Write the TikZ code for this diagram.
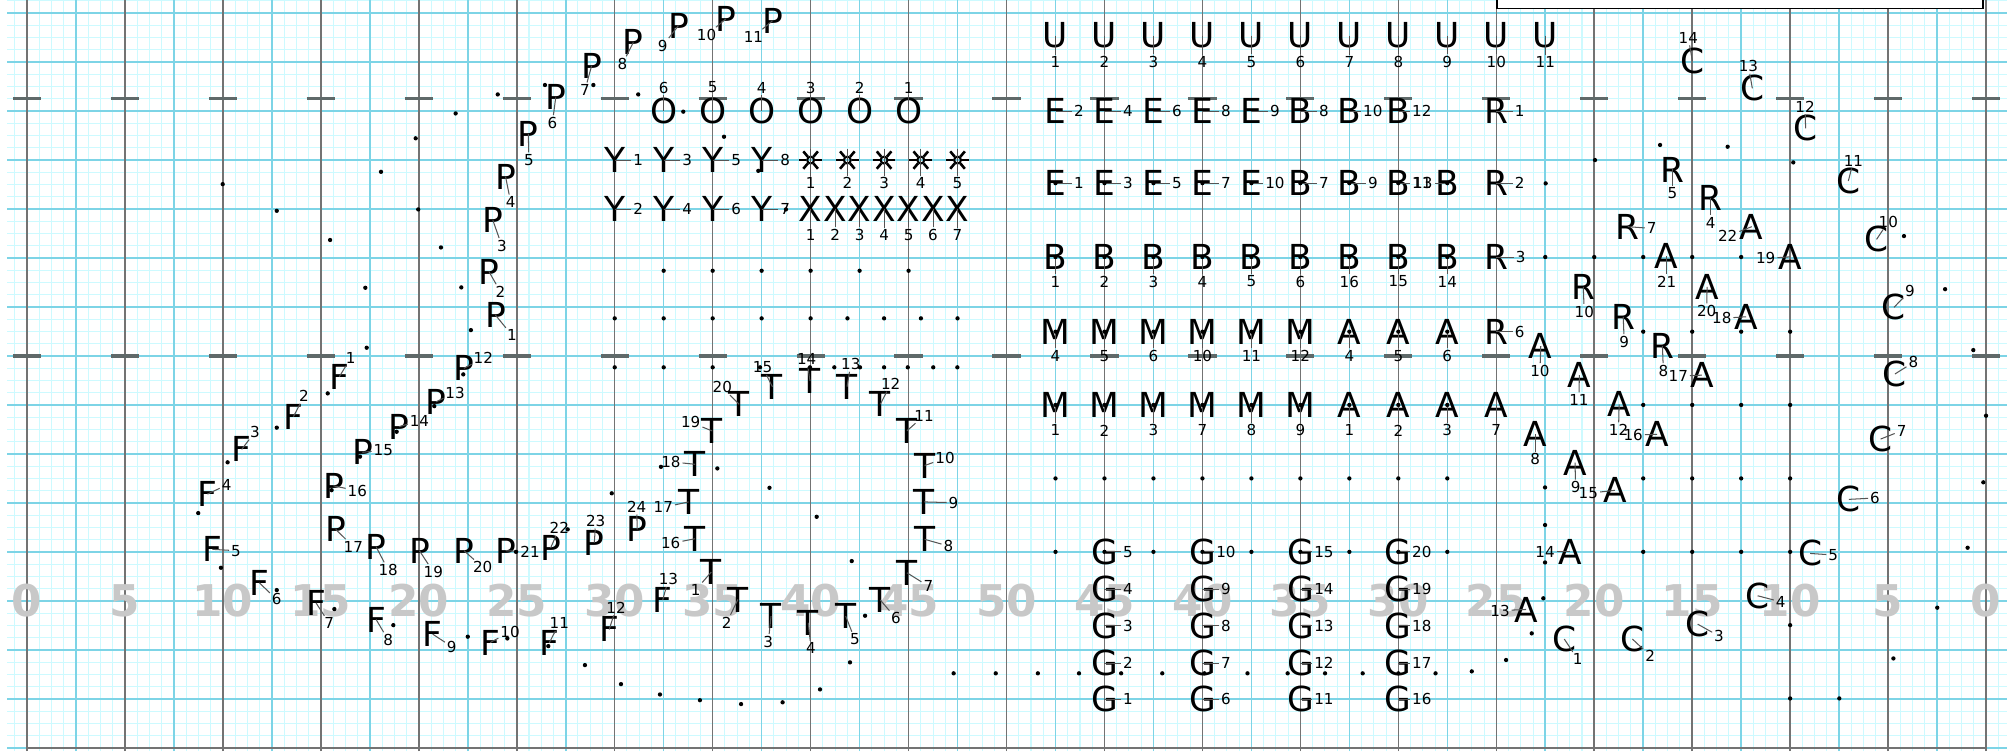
\documentclass[tikz,border=0pt]{standalone}
\usepackage{fontspec}
\setmainfont{DejaVu Sans}
\usetikzlibrary{positioning}
\definecolor{finegrid}{RGB}{205,250,255}
\definecolor{majorgrid}{RGB}{125,212,230}
\definecolor{yardline}{RGB}{115,115,115}
\definecolor{hashgray}{RGB}{95,105,105}
\definecolor{yardnum}{RGB}{200,200,200}
\definecolor{tethergray}{RGB}{85,85,85}

% one marcher: letter, its number and the tether between them
\newcommand{\mrch}[5]{%
  \node[marcher] (#1) at (#2) {#3};
  \node[numlbl] (#1n) at (#4) {#5};
  \draw[tether] (#1.center) -- (#1n);}

\begin{document}
\begin{tikzpicture}[
    x=0.2cm, y=0.2cm,
    marcher/.style={font=\fontsize{10}{10}\selectfont, inner sep=0pt},
    numlbl/.style={font=\fontsize{4.4}{4.4}\selectfont, inner sep=0.4pt},
    tether/.style={draw=tethergray, line width=0.3pt},
    sunmark/.style={circle, draw, line width=0.6pt, minimum size=0.7mm, inner sep=0pt},
    sunray/.style={line width=0.75pt},
    yardlbl/.style={font=\fontsize{12.7}{12.7}\selectfont\bfseries, text=yardnum, inner sep=0pt},
    hash/.style={draw=hashgray, line width=0.9pt}
]
\useasboundingbox (-1.378,-0.168) rectangle (101.07,38.17);

% ---- field ----
\fill[white] (-1.378,-0.168) rectangle (101.07,38.17);
\draw[finegrid, line width=0.3pt, step=0.625] (-1.0,-0.168) grid (101.07,38.17);
\draw[majorgrid, line width=0.45pt, step=2.5] (-1.0,-0.168) grid (101.07,38.17);
\foreach \x in {0,5,...,100} {\draw[yardline, line width=0.45pt] (\x,-0.168) -- (\x,38.17);}
\draw[yardline, line width=0.6pt] (0,0) -- (100,0);
\foreach \x in {0,5,...,100} {
  \draw[hash] (\x-0.72,20) -- (\x+0.72,20);
  \draw[hash] (\x-0.72,33.13) -- (\x+0.72,33.13);
}
\foreach \x/\n in {0/0,5/5,10/10,15/15,20/20,25/25,30/30,35/35,40/40,45/45,50/50,55/45,60/40,65/35,70/30,75/25,80/20,85/15,90/10,95/5,100/0} {
  \node[yardlbl] (yd\x) at (\x,7.5) {\n};
}

% ---- title box ----
\draw[fill=white, line width=0.4pt] (75.04,37.74) rectangle (99.84,38.6);

% ---- F ----
\mrch{f1}{15.94,18.94}{F}{16.52,19.88}{1}
\mrch{f2}{13.6,16.9}{F}{14.14,17.95}{2}
\mrch{f3}{10.96,15.23}{F}{11.64,16.13}{3}
\mrch{f4}{9.21,12.95}{F}{10.19,13.41}{4}
\mrch{f5}{9.46,10.13}{F}{10.67,10.06}{5}
\mrch{f6}{11.86,8.42}{F}{12.75,7.57}{6}
\mrch{f7}{14.75,7.4}{F}{15.43,6.35}{7}
\mrch{f8}{17.82,6.55}{F}{18.44,5.5}{8}
\mrch{f9}{20.71,5.8}{F}{21.68,5.16}{9}
\mrch{f10}{23.64,5.37}{F}{24.66,5.92}{10}
\mrch{f11}{26.66,5.36}{F}{27.17,6.35}{11}
\mrch{f12}{29.72,6.04}{F}{30.07,7.15}{12}
\mrch{f13}{32.45,7.54}{F}{32.74,8.6}{13}

% ---- P ----
\mrch{p1}{23.91,22.09}{P}{24.76,21.05}{1}
\mrch{p2}{23.58,24.31}{P}{24.17,23.27}{2}
\mrch{p3}{23.78,26.93}{P}{24.24,25.62}{3}
\mrch{p4}{24.43,29.15}{P}{24.69,27.85}{4}
\mrch{p5}{25.59,31.33}{P}{25.62,30.0}{5}
\mrch{p6}{26.99,33.2}{P}{26.82,31.9}{6}
\mrch{p7}{28.82,34.81}{P}{28.48,33.57}{7}
\mrch{p8}{30.95,36.01}{P}{30.39,34.9}{8}
\mrch{p9}{33.25,36.86}{P}{32.45,35.83}{9}
\mrch{p10}{35.67,37.2}{P}{34.69,36.38}{10}
\mrch{p11}{38.05,37.11}{P}{37.08,36.29}{11}
\mrch{p12}{22.3,19.37}{P}{23.29,19.88}{12}
\mrch{p13}{20.88,17.66}{P}{21.85,18.12}{13}
\mrch{p14}{18.99,16.39}{P}{20.03,16.69}{14}
\mrch{p15}{17.12,15.08}{P}{18.19,15.2}{15}
\mrch{p16}{15.64,13.37}{P}{16.86,13.12}{16}
\mrch{p17}{15.76,11.15}{P}{16.66,10.26}{17}
\mrch{p18}{17.82,10.26}{P}{18.44,9.07}{18}
\mrch{p19}{20.03,10.06}{P}{20.74,8.98}{19}
\mrch{p20}{22.31,10.06}{P}{23.26,9.21}{20}
\mrch{p21}{24.43,10.06}{P}{25.68,10.0}{21}
\mrch{p22}{26.73,10.21}{P}{27.17,11.2}{22}
\mrch{p23}{28.96,10.47}{P}{29.03,11.59}{23}
\mrch{p24}{31.15,11.15}{P}{31.12,12.3}{24}

% ---- T ----
\mrch{t1}{34.93,8.97}{T}{34.13,8.05}{1}
\mrch{t2}{36.29,7.57}{T}{35.72,6.4}{2}
\mrch{t3}{37.98,6.72}{T}{37.84,5.41}{3}
\mrch{t4}{39.88,6.38}{T}{40.02,5.07}{4}
\mrch{t5}{41.79,6.72}{T}{42.26,5.53}{5}
\mrch{t6}{43.56,7.54}{T}{44.36,6.6}{6}
\mrch{t7}{44.92,8.93}{T}{46.01,8.25}{7}
\mrch{t8}{45.82,10.64}{T}{47.03,10.3}{8}
\mrch{t9}{45.79,12.55}{T}{47.29,12.51}{9}
\mrch{t10}{45.82,14.41}{T}{46.86,14.77}{10}
\mrch{t11}{44.92,16.18}{T}{45.79,16.95}{11}
\mrch{t12}{43.56,17.54}{T}{44.09,18.57}{12}
\mrch{t13}{41.86,18.43}{T}{42.05,19.59}{13}
\mrch{t14}{39.97,18.72}{T}{39.8,19.83}{14}
\mrch{t15}{38.05,18.43}{T}{37.55,19.42}{15}
\mrch{t16}{34.1,10.67}{T}{32.86,10.43}{16}
\mrch{t17}{33.77,12.55}{T}{32.48,12.27}{17}
\mrch{t18}{34.1,14.47}{T}{32.87,14.6}{18}
\mrch{t19}{34.98,16.17}{T}{33.88,16.61}{19}
\mrch{t20}{36.35,17.54}{T}{35.49,18.4}{20}

% ---- O, Y, suns, X ----
\foreach \x/\n in {32.5/6,35/5,37.5/4,40/3,42.5/2,45/1} {
  \mrch{o\n}{\x,32.5}{O}{\x,33.7}{\n}
}
\foreach \x/\n in {30/1,32.5/3,35/5,37.5/8} {
  \mrch{y\n}{\x,30}{Y}{\x+1.2,30}{\n}
}
\foreach \x/\n in {30/2,32.5/4,35/6,37.5/7} {
  \mrch{y\n}{\x,27.5}{Y}{\x+1.2,27.5}{\n}
}
\foreach \x/\n in {40/1,41.875/2,43.75/3,45.625/4,47.5/5} {
  \node[sunmark] (s\n) at (\x,30) {};
  \foreach \a in {0,50,130,180,230,310} {\draw[sunray] (s\n.center) ++(\a:0.22) -- ++(\a:0.36);}
  \node[numlbl] (s\n l) at (\x,28.81) {\n};
  \draw[tether] (\x,30.55) -- (s\n l);
}
\foreach \x/\n in {40/1,41.25/2,42.5/3,43.75/4,45/5,46.25/6,47.5/7} {
  \mrch{x\n}{\x,27.5}{X}{\x,26.17}{\n}
}

% ---- U ----
\foreach \n in {1,...,11} {
  \mrch{u\n}{50+2.5*\n,36.35}{U}{50+2.5*\n,35.0}{\n}
}

% ---- E, B, M, A, R block ----
\foreach \x/\l/\n in {52.5/E/2,55/E/4,57.5/E/6,60/E/8,62.5/E/9,65/B/8,67.5/B/10,70/B/12,75/R/1} {
  \mrch{\l\n}{\x,32.5}{\l}{\x+1.2,32.5}{\n}
}
\foreach \x/\l/\n in {52.5/E/1,55/E/3,57.5/E/5,60/E/7,62.5/E/10,65/B/7,67.5/B/9,70/B/11,75/R/2} {
  \mrch{\l\n}{\x,28.82}{\l}{\x+1.2,28.82}{\n}
}
\mrch{B13}{72.5,28.82}{B}{71.25,28.82}{13}
\foreach \x/\n in {52.5/1,55/2,57.5/3,60/4,62.5/5,65/6,67.5/16,70/15,72.5/14} {
  \mrch{B\n}{\x,25.05}{B}{\x,23.8}{\n}
}
\mrch{R3}{75,25.05}{R}{76.25,25.05}{3}
\foreach \x/\l/\n in {52.5/M/4,55/M/5,57.5/M/6,60/M/10,62.5/M/11,65/M/12,67.5/A/4,70/A/5,72.5/A/6} {
  \mrch{\l\n}{\x,21.24}{\l}{\x,20.0}{\n}
}
\mrch{R6}{75,21.24}{R}{76.2,21.24}{6}
\foreach \x/\l/\n in {52.5/M/1,55/M/2,57.5/M/3,60/M/7,62.5/M/8,65/M/9,67.5/A/1,70/A/2,72.5/A/3,75/A/7} {
  \mrch{\l\n}{\x,17.5}{\l}{\x,16.2}{\n}
}

% ---- G ----
\foreach \c/\b in {55/0,60/5,65/10,70/15} {
  \foreach \y/\k in {10.0/5,8.1/4,6.22/3,4.32/2,2.47/1} {
    \pgfmathtruncatemacro{\g}{\b+\k}
    \mrch{G\g}{\c,\y}{G}{\c+1.2,\y}{\g}
  }
}

% ---- R and A, right side ----
\mrch{R4}{85.95,28.08}{R}{85.95,26.8}{4}
\mrch{R5}{83.99,29.52}{R}{83.99,28.3}{5}
\mrch{R7}{81.71,26.6}{R}{82.93,26.51}{7}
\mrch{R8}{83.48,20.51}{R}{83.53,19.24}{8}
\mrch{R9}{81.48,22.0}{R}{81.53,20.72}{9}
\mrch{R10}{79.44,23.53}{R}{79.49,22.26}{10}
\mrch{A8}{76.98,16.0}{A}{76.98,14.72}{8}
\mrch{A9}{79.02,14.55}{A}{79.05,13.29}{9}
\mrch{A10}{77.27,20.5}{A}{77.23,19.24}{10}
\mrch{A11}{79.24,19.02}{A}{79.22,17.75}{11}
\mrch{A12}{81.27,17.53}{A}{81.24,16.22}{12}
\mrch{A13}{76.52,7.06}{A}{75.19,7.0}{13}
\mrch{A14}{78.76,10.0}{A}{77.49,10.0}{14}
\mrch{A15}{81.05,13.14}{A}{79.7,12.99}{15}
\mrch{A16}{83.21,16.0}{A}{81.99,15.96}{16}
\mrch{A17}{85.49,19.02}{A}{84.29,18.97}{17}
\mrch{A18}{87.75,22.0}{A}{86.51,21.92}{18}
\mrch{A19}{90.0,25.06}{A}{88.75,24.98}{19}
\mrch{A20}{85.76,23.53}{A}{85.74,22.29}{20}
\mrch{A21}{83.7,25.1}{A}{83.7,23.79}{21}
\mrch{A22}{88.04,26.6}{A}{86.81,26.12}{22}

% ---- C ----
\mrch{c1}{78.47,5.55}{C}{79.16,4.51}{1}
\mrch{c2}{81.95,5.55}{C}{82.85,4.7}{2}
\mrch{c3}{85.28,6.31}{C}{86.37,5.7}{3}
\mrch{c4}{88.34,7.76}{C}{89.52,7.45}{4}
\mrch{c5}{91.02,9.92}{C}{92.2,9.84}{5}
\mrch{c6}{93.0,12.68}{C}{94.33,12.75}{6}
\mrch{c7}{94.62,15.76}{C}{95.69,16.18}{7}
\mrch{c8}{95.35,19.08}{C}{96.29,19.67}{8}
\mrch{c9}{95.3,22.48}{C}{96.12,23.33}{9}
\mrch{c10}{94.41,25.95}{C}{95.01,26.85}{10}
\mrch{c11}{92.97,28.93}{C}{93.23,29.96}{11}
\mrch{c12}{90.79,31.62}{C}{90.76,32.72}{12}
\mrch{c13}{88.07,33.66}{C}{87.87,34.8}{13}
\mrch{c14}{85.01,35.07}{C}{84.8,36.24}{14}

% ---- dots ----
\foreach \x in {52.5,55,...,72.5} {
  \foreach \y in {28.82,25.05,21.24,17.5,13.75,10} {\fill (\x,\y) circle (0.11);}
}
\foreach \x in {82.5,85,87.5,90} {
  \foreach \y in {21.24,17.5,13.75,10} {\fill (\x,\y) circle (0.11);}
}
\foreach \x in {32.5,35,...,45} {\fill (\x,24.35) circle (0.11);}
\foreach \x in {30,32.5,35,37.5,40,41.88,43.75,45.63,47.5} {\fill (\x,21.92) circle (0.11);}
\foreach \x in {30,32.5,35,37.42,39.97,41.21,42.52,43.75,44.96,46.26,47.49} {\fill (\x,19.42) circle (0.11);}
\foreach \x/\y in {9.99/28.77,12.75/27.41,15.47/25.92,17.27/23.48,17.34/20.42,
    24.03/33.35,21.88/32.38,19.84/31.11,18.07/29.4,19.97/27.48,21.13/25.54,22.17/23.5,22.66/21.32,
    15.35/18.09,12.75/16.34,10.24/14.57,8.74/11.98,9.9/9.19,12.75/8.05,15.69/7.08,18.7/6.26,
    22.5/5.67,24.52/5.58,26.61/5.19,
    22.27/19.06,20.79/17.44,18.87/16.13,17.0/14.86,15.55/13.15,24.96/10.0,27.6/11.15,
    26.44/33.83,28.91/33.83,31.2/33.35,33.5/32.47,35.58/31.19,37.33/29.45,38.74/27.48,
    32.36/14.34,35.24/14.26,37.9/13.27,29.85/12.99,40.31/11.79,42.1/9.53,42.78/6.74,
    42.01/4.36,40.48/2.98,38.57/2.32,36.45/2.23,34.35/2.43,32.31/2.72,30.32/3.25,28.48/4.22,
    47.3/3.8,49.45/3.8,51.6/3.8,53.7/3.8,55.85/3.8,57.95/3.8,60.1/3.8,62.3/3.8,64.35/3.8,
    66.26/3.8,68.18/3.8,70.0/3.8,71.9/3.8,73.75/3.9,75.5/4.48,76.81/5.84,77.4/7.63,
    77.49/9.46,77.49/11.37,77.49/13.29,
    77.5/25.05,80/25.05,82.5/25.05,85/25.05,87.5/25.05,
    80.04/30.0,90.16/29.88,83.36/30.77,86.81/30.68,77.52/28.81,95.81/26.12,97.91/23.41,
    99.35/20.3,100.0/16.95,99.86/13.55,99.06/10.21,97.51/7.15,95.27/4.56,92.51/2.52,
    90.0/2.52,90.0/6.26} {
  \fill (\x,\y) circle (0.11);
}

\end{tikzpicture}
\end{document}
